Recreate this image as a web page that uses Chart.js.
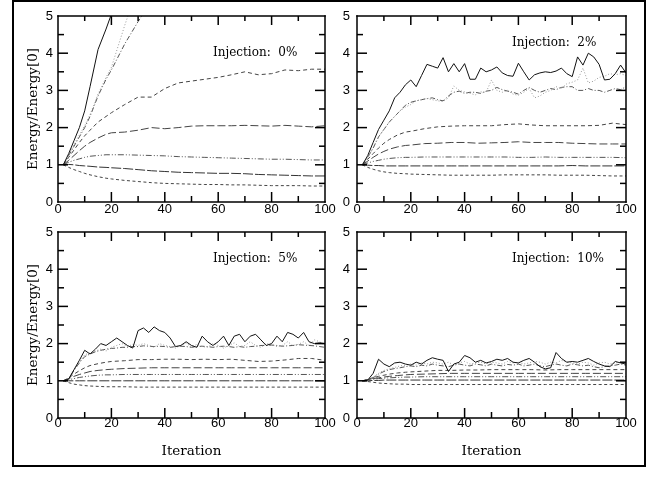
<!DOCTYPE html>
<html>
<head>
<meta charset="utf-8">
<script src="https://cdn.jsdelivr.net/npm/chart.js@4.4.1/dist/chart.umd.min.js"></script>
<style>
body{margin:0;background:#fff;width:654px;height:478px;position:relative;overflow:hidden}
#frame{position:absolute;left:12px;top:0;width:634px;height:467px;border:2px solid #000;box-sizing:border-box}
canvas{position:absolute}
</style>
</head>
<body>
<div id="frame"></div>
<canvas id="c0" width="345" height="222" style="left:0;top:0"></canvas>
<canvas id="c1" width="324" height="222" style="left:330px;top:0"></canvas>
<canvas id="c2" width="345" height="240" style="left:0;top:220px"></canvas>
<canvas id="c3" width="324" height="240" style="left:330px;top:220px"></canvas>
<script>
// iteration grids
const iterFine = [2,4,6,8,10,12,14,16,18,20,22,24,26,28,30,32,34,36,38,40,42,44,46,48,50,52,54,56,58,60,62,64,66,68,70,72,74,76,78,80,82,84,86,88,90,92,94,96,98,100]
const iterCoarse = [2,4,6,8,10,12,15,18,20,25,30,35,40,45,50,55,60,65,70,75,80,85,90,95,100]

const xTicks = [0,20,40,60,80,100]
const yTicks = [0,1,2,3,4,5]
const panelLabels = ['Injection:  0%','Injection:  2%','Injection:  5%','Injection:  10%']

// Injection 0% (all on iterCoarse)
const inj0_s1 = [1,1.3,1.65,2.0,2.45,3.1,4.1,4.65,5.05,6.2,null,null,null,null,null,null,null,null,null,null,null,null,null,null,null]
const inj0_s2 = [1,1.25,1.55,1.8,2.05,2.35,2.9,3.35,3.62,4.75,5.8,null,null,null,null,null,null,null,null,null,null,null,null,null,null]
const inj0_s3 = [1,1.25,1.5,1.75,2.0,2.3,2.85,3.3,3.55,4.25,4.85,5.4,null,null,null,null,null,null,null,null,null,null,null,null,null]
const inj0_s4 = [1,1.2,1.4,1.6,1.78,1.93,2.15,2.3,2.4,2.62,2.82,2.82,3.05,3.2,3.25,3.3,3.35,3.42,3.5,3.42,3.45,3.55,3.53,3.57,3.57]
const inj0_s5 = [1,1.12,1.25,1.38,1.5,1.6,1.72,1.82,1.86,1.88,1.93,2.0,1.97,2.0,2.04,2.05,2.05,2.05,2.06,2.05,2.04,2.06,2.04,2.02,2.05]
const inj0_s6 = [1,1.07,1.12,1.16,1.2,1.23,1.25,1.27,1.27,1.27,1.26,1.25,1.24,1.22,1.21,1.2,1.19,1.18,1.17,1.16,1.15,1.15,1.14,1.13,1.13]
const inj0_s7 = [1,1.01,1.0,0.98,0.97,0.96,0.94,0.93,0.92,0.9,0.87,0.84,0.82,0.8,0.79,0.78,0.77,0.77,0.76,0.74,0.73,0.72,0.71,0.7,0.7]
const inj0_s8 = [1,0.93,0.87,0.82,0.77,0.73,0.68,0.64,0.62,0.58,0.55,0.52,0.5,0.49,0.48,0.47,0.47,0.46,0.46,0.45,0.44,0.44,0.44,0.43,0.43]

// Injection 2% (s1-s3 on iterFine, rest on iterCoarse)
const inj2_s1 = [1,1.25,1.6,1.95,2.2,2.45,2.8,2.95,3.15,3.28,
  3.1,3.4,3.7,3.65,3.6,3.88,3.5,3.72,3.5,3.72,
  3.3,3.3,3.6,3.5,3.55,3.63,3.47,3.4,3.38,3.73,
  3.5,3.28,3.42,3.47,3.5,3.48,3.52,3.6,3.45,3.37,
  3.9,3.68,4.0,3.9,3.7,3.28,3.3,3.45,3.68,3.47]
const inj2_s2 = [1,1.2,1.45,1.75,1.95,2.15,2.3,2.45,2.55,2.62,
  2.72,2.75,2.78,2.75,2.72,2.7,2.8,3.12,3.0,2.96,
  2.92,2.88,2.96,2.95,3.28,3.0,2.95,3.0,2.9,2.87,
  2.95,3.05,2.8,2.85,2.95,3.0,3.1,3.05,3.18,3.22,
  3.28,3.6,3.2,3.25,3.35,3.38,3.45,3.42,3.45,3.4]
const inj2_s3 = [1,1.2,1.45,1.75,1.95,2.15,2.3,2.45,2.6,2.68,
  2.72,2.75,2.78,2.8,2.75,2.72,2.85,2.95,2.98,2.92,
  2.95,2.95,2.92,2.98,3.0,3.08,3.02,2.98,2.95,2.9,
  3.0,3.08,3.0,2.95,3.0,3.05,3.02,3.08,3.1,3.1,
  3.0,3.0,3.05,3.0,3.0,2.95,3.0,3.05,3.02,3.1]
const inj2_s4 = [1,1.15,1.3,1.45,1.58,1.68,1.8,1.88,1.9,1.97,2.02,2.04,2.05,2.05,2.05,2.08,2.1,2.07,2.05,2.05,2.05,2.05,2.06,2.12,2.08]
const inj2_s5 = [1,1.1,1.2,1.29,1.36,1.42,1.48,1.52,1.53,1.57,1.58,1.6,1.6,1.58,1.59,1.6,1.62,1.6,1.6,1.6,1.58,1.57,1.56,1.56,1.56]
const inj2_s6 = [1,1.05,1.09,1.12,1.15,1.17,1.19,1.2,1.2,1.21,1.21,1.21,1.21,1.21,1.21,1.21,1.2,1.2,1.21,1.2,1.2,1.2,1.2,1.2,1.19]
const inj2_s7 = [1,0.99,0.98,0.98,0.97,0.97,0.97,0.97,0.97,0.97,0.97,0.97,0.97,0.97,0.97,0.97,0.97,0.97,0.97,0.97,0.98,0.97,0.97,0.97,0.97]
const inj2_s8 = [1,0.93,0.88,0.84,0.81,0.79,0.77,0.76,0.75,0.74,0.73,0.72,0.72,0.72,0.72,0.73,0.73,0.73,0.73,0.72,0.72,0.72,0.71,0.7,0.7]

// Injection 5%
const inj5_s1 = [1,1.05,1.3,1.55,1.82,1.72,1.85,2.0,1.95,2.05,
  2.15,2.05,1.95,1.88,2.35,2.42,2.3,2.45,2.35,2.3,
  2.15,1.92,1.95,2.05,1.95,1.9,2.2,2.05,1.95,2.05,
  2.2,1.95,2.2,2.25,2.05,2.2,2.25,2.1,1.95,2.0,
  2.2,2.05,2.3,2.25,2.15,2.3,2.05,2.0,2.02,2.0]
const inj5_s2 = [1,1.05,1.3,1.5,1.7,1.75,1.8,1.85,1.8,1.9,
  1.95,2.0,1.92,1.98,1.95,2.0,1.95,1.9,2.0,1.95,
  1.92,1.88,1.95,2.02,1.9,1.98,1.92,1.9,2.0,1.95,
  1.88,1.95,2.02,1.92,1.95,2.05,1.95,1.9,2.0,1.98,
  1.92,1.95,2.05,1.95,1.98,2.05,1.95,2.1,2.05,1.95]
const inj5_s3 = [1,1.05,1.28,1.48,1.65,1.72,1.78,1.82,1.85,1.87,
  1.88,1.9,1.9,1.92,1.92,1.94,1.93,1.92,1.93,1.92,
  1.9,1.92,1.93,1.92,1.9,1.92,1.93,1.92,1.9,1.92,
  1.93,1.92,1.9,1.92,1.9,1.92,1.93,1.95,1.95,1.96,
  1.95,1.93,1.94,1.95,1.97,1.96,1.95,1.94,1.92,1.9]
const inj5_s4 = [1,1.08,1.18,1.27,1.35,1.41,1.46,1.5,1.52,1.54,1.57,1.57,1.58,1.58,1.57,1.58,1.57,1.58,1.55,1.52,1.53,1.56,1.6,1.6,1.55]
const inj5_s5 = [1,1.06,1.12,1.17,1.21,1.25,1.28,1.3,1.31,1.33,1.34,1.35,1.35,1.35,1.35,1.35,1.35,1.35,1.35,1.35,1.35,1.35,1.35,1.35,1.35]
const inj5_s6 = [1,1.03,1.06,1.09,1.11,1.13,1.15,1.16,1.16,1.17,1.17,1.17,1.17,1.17,1.17,1.17,1.17,1.17,1.17,1.17,1.17,1.17,1.17,1.17,1.17]
const inj5_s7 = [1,1,1,1,1,1,1,1,1,1,1,1,1,1,1,1,1,1,1,1,1,1,1,1,1]
const inj5_s8 = [1,0.95,0.91,0.89,0.87,0.86,0.85,0.84,0.84,0.84,0.83,0.83,0.83,0.83,0.83,0.83,0.83,0.83,0.83,0.83,0.83,0.83,0.83,0.83,0.83]

// Injection 10%
const inj10_s1 = [1,1.02,1.2,1.58,1.45,1.38,1.48,1.5,1.45,1.42,
  1.5,1.45,1.55,1.62,1.58,1.55,1.25,1.45,1.5,1.68,
  1.62,1.5,1.55,1.48,1.52,1.58,1.55,1.6,1.5,1.48,
  1.55,1.6,1.5,1.38,1.32,1.35,1.76,1.6,1.5,1.52,
  1.5,1.55,1.6,1.52,1.45,1.4,1.38,1.52,1.48,1.45]
const inj10_s2 = [1,1.02,1.1,1.2,1.28,1.32,1.36,1.4,1.42,1.45,
  1.42,1.48,1.45,1.5,1.48,1.45,1.5,1.42,1.48,1.52,
  1.45,1.48,1.5,1.45,1.5,1.48,1.45,1.52,1.48,1.5,
  1.45,1.48,1.52,1.5,1.45,1.5,1.48,1.55,1.5,1.48,
  1.45,1.5,1.48,1.42,1.48,1.5,1.45,1.48,1.5,1.48]
const inj10_s3 = [1,1.02,1.08,1.18,1.25,1.3,1.33,1.35,1.38,1.4,
  1.38,1.42,1.4,1.45,1.42,1.4,1.38,1.42,1.45,1.42,
  1.4,1.45,1.43,1.4,1.45,1.42,1.4,1.44,1.42,1.45,
  1.4,1.42,1.45,1.4,1.38,1.42,1.45,1.42,1.4,1.45,
  1.43,1.4,1.42,1.38,1.35,1.38,1.4,1.42,1.45,1.42]
const inj10_s4 = [1,1.04,1.08,1.12,1.15,1.18,1.21,1.23,1.24,1.26,1.28,1.28,1.29,1.29,1.3,1.3,1.3,1.3,1.29,1.3,1.3,1.3,1.3,1.3,1.3]
const inj10_s5 = [1,1.03,1.06,1.08,1.1,1.12,1.14,1.16,1.17,1.18,1.19,1.2,1.2,1.2,1.2,1.2,1.2,1.2,1.2,1.2,1.2,1.2,1.2,1.2,1.2]
const inj10_s6 = [1,1.02,1.04,1.06,1.07,1.08,1.09,1.1,1.1,1.11,1.11,1.11,1.11,1.11,1.11,1.11,1.11,1.11,1.11,1.11,1.11,1.11,1.11,1.11,1.11]
const inj10_s7 = [1,1,1.01,1.01,1.02,1.02,1.02,1.02,1.02,1.02,1.02,1.02,1.02,1.02,1.02,1.02,1.02,1.02,1.02,1.02,1.02,1.02,1.02,1.02,1.02]
const inj10_s8 = [1,0.98,0.96,0.94,0.93,0.92,0.91,0.91,0.9,0.9,0.9,0.9,0.9,0.9,0.9,0.9,0.9,0.9,0.9,0.9,0.9,0.9,0.9,0.9,0.9]

// line styles, top curve first
const lineStyles = [
  {color:'#111', dash:[]},
  {color:'#999', dash:[1,2]},
  {color:'#555', dash:[5,2,1,2]},
  {color:'#444', dash:[4,3]},
  {color:'#444', dash:[8,3]},
  {color:'#555', dash:[6,2,1,2,1,2]},
  {color:'#333', dash:[10,2]},
  {color:'#444', dash:[3,2.5]}
]

// frame + inward ticks on all four sides (filled rects)
const frameTicks = {
  id:'frameTicks',
  afterDraw(chart){
    const {ctx, chartArea:a} = chart
    const x = chart.scales.x, y = chart.scales.y
    const w = 1.5
    ctx.save()
    ctx.fillStyle = '#000'
    // frame
    ctx.fillRect(a.left-w/2, a.top-w/2, a.right-a.left+w, w)
    ctx.fillRect(a.left-w/2, a.bottom-w/2, a.right-a.left+w, w)
    ctx.fillRect(a.left-w/2, a.top-w/2, w, a.bottom-a.top+w)
    ctx.fillRect(a.right-w/2, a.top-w/2, w, a.bottom-a.top+w)
    for(let i=0;i<xTicks.length-1;i++){
      const major = x.getPixelForValue(xTicks[i])
      const minor = x.getPixelForValue((xTicks[i]+xTicks[i+1])/2)
      if(i>0){
        ctx.fillRect(major-w/2, a.bottom-10, w, 10)
        ctx.fillRect(major-w/2, a.top, w, 9)
      }
      ctx.fillRect(minor-w/2, a.bottom-6, w, 6)
      ctx.fillRect(minor-w/2, a.top, w, 5)
    }
    for(let i=0;i<yTicks.length-1;i++){
      const major = y.getPixelForValue(yTicks[i])
      const minor = y.getPixelForValue((yTicks[i]+yTicks[i+1])/2)
      if(i>0){
        ctx.fillRect(a.left, major-w/2, 10, w)
        ctx.fillRect(a.right-10, major-w/2, 10, w)
      }
      ctx.fillRect(a.left, minor-w/2, 6, w)
      ctx.fillRect(a.right-6, minor-w/2, 6, w)
    }
    ctx.restore()
  }
}

// "Injection: x%" text
const injectionLabel = {
  id:'injection',
  afterDraw(chart, args, opts){
    const {ctx, chartArea:a} = chart
    ctx.save()
    ctx.font = '12px "DejaVu Serif"'
    ctx.fillStyle = '#000'
    ctx.textAlign = 'left'
    ctx.textBaseline = 'middle'
    ctx.fillText(opts.text, a.left+155, a.top+opts.dy)
    ctx.restore()
  }
}

function makeSets(series){
  return series.map(([iters, vals], i) => ({
    data: iters.map((it, k) => ({x: it, y: vals[k]})),
    borderColor: lineStyles[i].color,
    borderDash: lineStyles[i].dash,
    borderWidth: 1,
    pointRadius: 0,
    fill: false,
    spanGaps: false
  }))
}

function panel(id, series, o){
  new Chart(document.getElementById(id), {
    type:'line',
    data:{datasets: makeSets(series)},
    options:{
      responsive:false,
      animation:false,
      devicePixelRatio:1,
      layout:{padding:{left:o.padLeft, right:o.padRight, top:o.padTop, bottom:0}},
      plugins:{
        legend:{display:false},
        tooltip:{enabled:false},
        injection:{text:o.label, dy:o.dy}
      },
      scales:{
        x:{
          type:'linear', min:0, max:100,
          afterBuildTicks: s => { s.ticks = xTicks.map(v=>({value:v})) },
          afterFit: s => { s.height = o.xHeight; s.paddingLeft = 0; s.paddingRight = 0 },
          grid:{display:false, drawTicks:false},
          border:{display:false},
          ticks:{color:'#000', padding:o.xPad, maxRotation:0, font:{family:'Liberation Sans', size:13}},
          title:{display:!!o.xTitle, text:o.xTitle || '', color:'#000', padding:0, font:{family:'DejaVu Serif', size:13.5}}
        },
        y:{
          min:0, max:5,
          afterBuildTicks: s => { s.ticks = yTicks.map(v=>({value:v})) },
          afterFit: s => { s.width = o.yWidth; s.paddingTop = 0; s.paddingBottom = 0 },
          grid:{display:false, drawTicks:false},
          border:{display:false},
          ticks:{color:'#000', padding:o.yPad, font:{family:'Liberation Sans', size:13}},
          title:{display:!!o.yTitle, text:o.yTitle || '', color:'#000', padding:0, font:{family:'DejaVu Serif', size:13.5}}
        }
      }
    },
    plugins:[frameTicks, injectionLabel]
  })
}

panel('c0', [
  [iterCoarse,inj0_s1],[iterCoarse,inj0_s2],[iterCoarse,inj0_s3],[iterCoarse,inj0_s4],
  [iterCoarse,inj0_s5],[iterCoarse,inj0_s6],[iterCoarse,inj0_s7],[iterCoarse,inj0_s8]
], {label:panelLabels[0], dy:37, padLeft:25, padRight:20, padTop:16, xHeight:20, yWidth:33, xPad:0, yPad:5, yTitle:'Energy/Energy[0]'})

panel('c1', [
  [iterFine,inj2_s1],[iterFine,inj2_s2],[iterFine,inj2_s3],[iterCoarse,inj2_s4],
  [iterCoarse,inj2_s5],[iterCoarse,inj2_s6],[iterCoarse,inj2_s7],[iterCoarse,inj2_s8]
], {label:panelLabels[1], dy:27, padLeft:0, padRight:28, padTop:16, xHeight:20, yWidth:27, xPad:0, yPad:7})

panel('c2', [
  [iterFine,inj5_s1],[iterFine,inj5_s2],[iterFine,inj5_s3],[iterCoarse,inj5_s4],
  [iterCoarse,inj5_s5],[iterCoarse,inj5_s6],[iterCoarse,inj5_s7],[iterCoarse,inj5_s8]
], {label:panelLabels[2], dy:27, padLeft:25, padRight:20, padTop:12, xHeight:42, yWidth:33, xPad:-2, yPad:5, yTitle:'Energy/Energy[0]', xTitle:'Iteration'})

panel('c3', [
  [iterFine,inj10_s1],[iterFine,inj10_s2],[iterFine,inj10_s3],[iterCoarse,inj10_s4],
  [iterCoarse,inj10_s5],[iterCoarse,inj10_s6],[iterCoarse,inj10_s7],[iterCoarse,inj10_s8]
], {label:panelLabels[3], dy:27, padLeft:0, padRight:28, padTop:12, xHeight:42, yWidth:27, xPad:-2, yPad:7, xTitle:'Iteration'})
</script>
</body>
</html>
